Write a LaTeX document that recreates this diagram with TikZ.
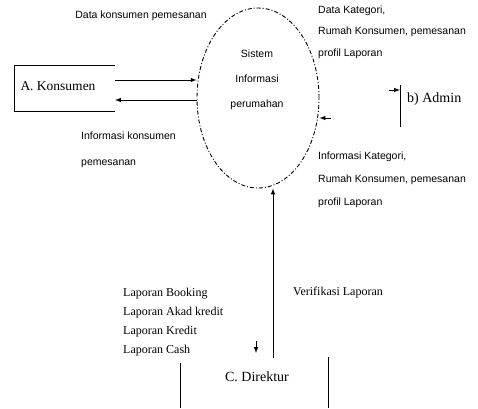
\documentclass[tikz,border=0pt]{standalone}
\usepackage{fontspec}
\setmainfont{Liberation Serif}
\newfontfamily\lblfont{Liberation Sans}
\usepackage{tikz}
\usetikzlibrary{positioning,shapes}

\tikzset{
  flowlbl/.style={font=\lblfont\fontsize{10.5}{22}\selectfont, inner sep=0, align=left},
  entlbl/.style={font=\fontsize{13.5}{16}\selectfont, inner sep=0},
  line/.style={line width=1pt},
  arr/.style={line width=1pt, -latex}
}

\begin{document}
\begin{tikzpicture}[x=1pt, y=-1pt]
      \useasboundingbox (0, 0) rectangle (478, 408);
      % proses
      \node (sys) [ellipse, draw, line width=0.9pt, dash pattern=on 4pt off 2pt on 1pt off 2pt,
                   minimum width=122pt, minimum height=180pt, inner sep=0] at (258, 98) {};
      \node (systxt) [flowlbl, align=center, font=\lblfont\fontsize{10.5}{25}\selectfont] at (257, 80)
            {Sistem\\Informasi\\perumahan};
      % entitas
      \draw [line] (115, 65) -- (14, 65) -- (14, 111) -- (115, 111);
      \node (kons) [entlbl] at (58, 86) {A. Konsumen};
      \coordinate (admtop) at (400, 85);
      \coordinate (admbot) at (400, 127);
      \draw [line] (admtop) -- (admbot);
      \node (admin) [entlbl, font=\fontsize{14}{16}\selectfont, anchor=west] at (407, 99) {b) Admin};
      \node (dir) [entlbl, font=\fontsize{14}{16}\selectfont] at (257, 377) {C. Direktur};
      \draw [line] (180, 363) -- (180, 408)
                   (328, 357) -- (328, 408);
      % aliran data
      \coordinate (k1) at (115, 80);
      \coordinate (k2) at (115, 100);
      \draw [arr] (k1) -- (k1 -| sys.west);
      \draw [arr] (k2 -| sys.west) -- (k2);
      \coordinate (a1) at (389, 90);
      \draw [arr] (a1) -- (a1 -| admtop);
      \coordinate (a2) at (331, 118);
      \draw [arr] (a2) -- (a2 -| sys.east);
      \coordinate (d1) at (273, 358);
      \draw [arr] (d1) -- (d1 |- sys.south);
      \coordinate (d2) at (256, 341);
      \coordinate (d3) at (256, 353);
      \draw [arr] (d2) -- (d3);
      % label
      \node (l1) [flowlbl] at (141, 16) {Data konsumen pemesanan};
      \node (l2) [flowlbl, font=\lblfont\fontsize{10.5}{26}\selectfont, anchor=west] at (81, 150)
            {Informasi konsumen\\pemesanan};
      \node (l3) [flowlbl, font=\lblfont\fontsize{10.5}{21.5}\selectfont, anchor=west] at (318, 32)
            {Data Kategori,\\Rumah Konsumen, pemesanan\\profil Laporan};
      \node (l4) [flowlbl, font=\lblfont\fontsize{10.5}{23}\selectfont, anchor=west] at (318, 180)
            {Informasi Kategori,\\Rumah Konsumen, pemesanan\\profil Laporan};
      \node (l5) [entlbl, font=\fontsize{12}{14}\selectfont] at (338, 293) {Verifikasi Laporan};
      \node (l6) [entlbl, font=\fontsize{12}{19}\selectfont, align=left, anchor=west] at (123, 322)
            {Laporan Booking\\Laporan Akad kredit\\Laporan Kredit\\Laporan Cash};
\end{tikzpicture}
\end{document}
